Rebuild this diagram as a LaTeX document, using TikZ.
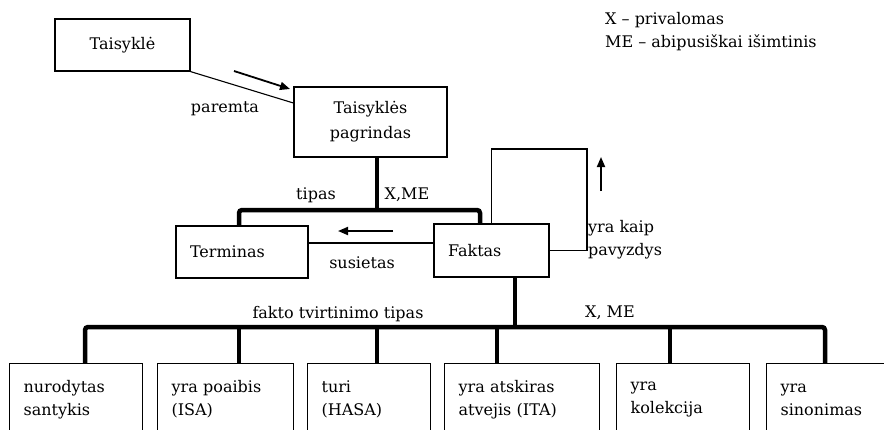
\documentclass[tikz,border=0pt]{standalone}
\usepackage{fontspec}
\setmainfont{DejaVu Serif}
\usetikzlibrary{arrows.meta}
\begin{document}
\begin{tikzpicture}[x=1pt,y=-1pt,
  txt/.style={font=\fontsize{16}{23}\selectfont},
  box/.style={draw,line width=1.2pt,rectangle,inner sep=0pt,txt},
  leftbox/.style={box,inner xsep=14pt,align=left},
  bar/.style={line width=4.5pt,rounded corners=3pt},
  link/.style={line width=1.1pt},
  dirarrow/.style={line width=1.8pt,-{Triangle[length=10pt,width=8pt]}},
  lbl/.style={txt,inner sep=0pt}
]
\path[use as bounding box, clip] (0,0) rectangle (884,429);

% upper part
\node[box,minimum width=135pt,minimum height=52pt] (rule) at (122.5,45) {Taisyklė};
\node[box,align=center,minimum width=153pt,minimum height=70pt,font=\fontsize{16}{25}\selectfont] (basis) at (370.5,122) {Taisyklės\\pagrindas};
\node[leftbox,text width=104pt,minimum height=52pt] (term) at (242,252) {Terminas};
\node[leftbox,text width=87pt,minimum height=53pt] (fact) at (491.5,250.5) {Faktas};

% lower boxes
\node[leftbox,anchor=north west,text width=105pt,minimum height=72pt] (b1) at (9,363) {nurodytas\\santykis};
\node[leftbox,anchor=north west,text width=108pt,minimum height=72pt] (b2) at (157,363) {yra poaibis\\(ISA)};
\node[leftbox,anchor=north west,text width=95pt,minimum height=72pt] (b3) at (307,363) {turi\\(HASA)};
\node[leftbox,anchor=north west,text width=127pt,minimum height=72pt] (b4) at (444,363) {yra atskiras\\atvejis (ITA)};
\node[leftbox,anchor=north west,text width=105pt,minimum height=72pt] (b5) at (616,363) {yra\\kolekcija};
\node[leftbox,anchor=north west,text width=102pt,minimum height=72pt] (b6) at (766,363) {yra\\sinonimas};

% thin relationship lines
\draw[link] (rule.south east) -- (basis.west |- 0,103);
\draw[link] (term.east |- 0,243) -- (fact.west |- 0,243);
\coordinate (loopR) at (587,149);
\draw[link] (fact.east) -| (loopR) -| (fact.north);

% direction arrows
\draw[dirarrow] (234,71) -- (290,89);
\draw[dirarrow] (393,231) -- (338,231);
\draw[dirarrow] (601,191) -- (601,157);

% upper type tree
\coordinate (j1) at (377,210);
\coordinate (tl) at (239,210);
\coordinate (tr) at (480,210);
\draw[bar] (basis.south -| j1) -- (j1);
\draw[bar] (term.north -| tl) -- (tl) -- (tr) -- (fact.north -| tr);

% lower type tree
\coordinate (fb) at (515,327);
\coordinate (d1) at (85,327);
\coordinate (d2) at (239,327);
\coordinate (d3) at (377,327);
\coordinate (d4) at (497,327);
\coordinate (d5) at (670,327);
\coordinate (d6) at (825,327);
\draw[bar] (fact.south -| fb) -- (fb);
\draw[bar] (b1.north -| d1) -- (d1) -- (d6) -- (b6.north -| d6);
\draw[bar] (d2) -- (b2.north -| d2);
\draw[bar] (d3) -- (b3.north -| d3);
\draw[bar] (d4) -- (b4.north -| d4);
\draw[bar] (d5) -- (b5.north -| d5);

% labels
\node[lbl] (lparemta) at (225,109) {paremta};
\node[lbl] (ltipas) at (316,195) {tipas};
\node[lbl] (lxme1) at (407,195) {X,ME};
\node[lbl] (lsusietas) at (362,263) {susietas};
\node[lbl,align=left,anchor=west] (lpav) at (588,240) {yra kaip\\pavyzdys};
\node[lbl] (lfakto) at (338,314) {fakto tvirtinimo tipas};
\node[lbl] (lxme2) at (610,313) {X, ME};
\node[lbl,align=left,anchor=west] (legend) at (605,31.5) {X – privalomas\\ME – abipusiškai išimtinis};
\end{tikzpicture}
\end{document}
